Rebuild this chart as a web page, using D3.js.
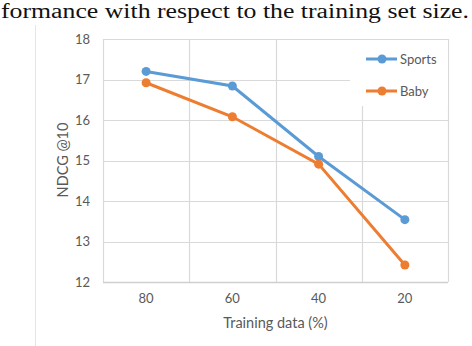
<!DOCTYPE html>
<html>
<head>
<meta charset="utf-8">
<script src="https://cdn.jsdelivr.net/npm/d3@7"></script>
<style>
  body { margin: 0; background: #fff; }
  svg { display: block; }
</style>
</head>
<body>
<div id="chart"></div>
<script>
// dados
const categorias = ['80', '60', '40', '20'];
const sports = [17.2, 16.84, 15.1, 13.54];
const baby = [16.92, 16.08, 14.91, 12.42];
const yTicks = [12, 13, 14, 15, 16, 17, 18];

const width = 472, height = 346;
const margem = { left: 103, right: 24, top: 39, bottom: 64 };

const svg = d3.select('#chart').append('svg')
    .attr('width', width)
    .attr('height', height);

// legenda do artigo (recortada no topo)
svg.append('text')
    .attr('x', 1)
    .attr('y', 18)
    .attr('textLength', 468)
    .attr('lengthAdjust', 'spacingAndGlyphs')
    .style('font-family', '"Liberation Serif", "DejaVu Serif", serif')
    .style('font-size', '20px')
    .style('fill', '#111')
    .text('formance with respect to the training set size.');

// borda suave do gráfico
svg.append('line')
    .attr('x1', 35.5).attr('x2', 35.5)
    .attr('y1', 25).attr('y2', height)
    .attr('stroke', '#e6e6e6');

const x = d3.scaleBand()
    .domain(categorias)
    .range([margem.left, width - margem.right]);

const y = d3.scaleLinear()
    .domain([12, 18])
    .range([height - margem.bottom, margem.top]);

const g = svg.append('g');

// grade horizontal
g.selectAll('.hgrid')
    .data(yTicks)
    .enter().append('line')
    .attr('class', 'hgrid')
    .attr('x1', margem.left)
    .attr('x2', width - margem.right)
    .attr('y1', d => Math.round(y(d)) + 0.5)
    .attr('y2', d => Math.round(y(d)) + 0.5)
    .attr('stroke', d => d === 12 ? '#cfcfcf' : '#d9d9d9')
    .attr('stroke-width', d => d === 12 ? 1.5 : 1.2);

// grade vertical (entre categorias)
const bordas = categorias.map(c => x(c)).concat([x.range()[1]]);
g.selectAll('.vgrid')
    .data(bordas)
    .enter().append('line')
    .attr('class', 'vgrid')
    .attr('x1', d => Math.round(d) + 0.5)
    .attr('x2', d => Math.round(d) + 0.5)
    .attr('y1', y(18))
    .attr('y2', y(12))
    .attr('stroke', '#d9d9d9')
    .attr('stroke-width', 1.2);

// eixos (só os rótulos)
const yAxis = g.append('g')
    .attr('transform', `translate(${margem.left - 13},0)`)
    .call(d3.axisLeft(y).tickValues(yTicks).tickFormat(d3.format('d')).tickSize(0).tickPadding(0));
yAxis.select('.domain').remove();

const xAxis = g.append('g')
    .attr('transform', `translate(0,${y(12) + 12})`)
    .call(d3.axisBottom(x).tickSize(0).tickPadding(0));
xAxis.select('.domain').remove();

svg.selectAll('.tick text')
    .style('font-family', 'Lato, "Open Sans", sans-serif')
    .style('font-size', '13px')
    .style('fill', '#595959');

// títulos dos eixos
svg.append('text')
    .attr('x', (x.range()[0] + x.range()[1]) / 2)
    .attr('y', 328)
    .attr('text-anchor', 'middle')
    .style('font-family', 'Lato, "Open Sans", sans-serif')
    .style('font-size', '14.5px')
    .style('fill', '#595959')
    .text('Training data (%)');

svg.append('text')
    .attr('transform', 'translate(68,160) rotate(-90)')
    .attr('text-anchor', 'middle')
    .style('font-family', 'Lato, "Open Sans", sans-serif')
    .style('font-size', '14.5px')
    .style('fill', '#595959')
    .text('NDCG @10');

// legenda (fundo branco sobre a grade)
g.append('rect')
    .attr('x', 350)
    .attr('y', y(18) + 1)
    .attr('width', width - margem.right - 350)
    .attr('height', 66)
    .attr('fill', '#fff');

const series = [
    { nome: 'Sports', valores: sports, cor: '#5b9bd5' },
    { nome: 'Baby', valores: baby, cor: '#ed7d31' }
];

const linha = d3.line()
    .x((d, i) => x(categorias[i]) + x.bandwidth() / 2)
    .y(d => y(d));

series.forEach(s => {
    g.append('path')
        .datum(s.valores)
        .attr('d', linha)
        .attr('fill', 'none')
        .attr('stroke', s.cor)
        .attr('stroke-width', 3);

    g.selectAll(null)
        .data(s.valores)
        .enter().append('circle')
        .attr('cx', (d, i) => x(categorias[i]) + x.bandwidth() / 2)
        .attr('cy', d => y(d))
        .attr('r', 4.5)
        .attr('fill', s.cor);
});

const legenda = g.selectAll('.legenda')
    .data(series)
    .enter().append('g')
    .attr('class', 'legenda')
    .attr('transform', (d, i) => `translate(366,${59 + i * 32})`);

legenda.append('line')
    .attr('x1', 0).attr('x2', 31)
    .attr('stroke', d => d.cor)
    .attr('stroke-width', 3);

legenda.append('circle')
    .attr('cx', 16)
    .attr('r', 4.5)
    .attr('fill', d => d.cor);

legenda.append('text')
    .attr('x', 34)
    .attr('dy', '0.35em')
    .style('font-family', 'Lato, "Open Sans", sans-serif')
    .style('font-size', '13px')
    .style('fill', '#595959')
    .text(d => d.nome);
</script>
</body>
</html>
